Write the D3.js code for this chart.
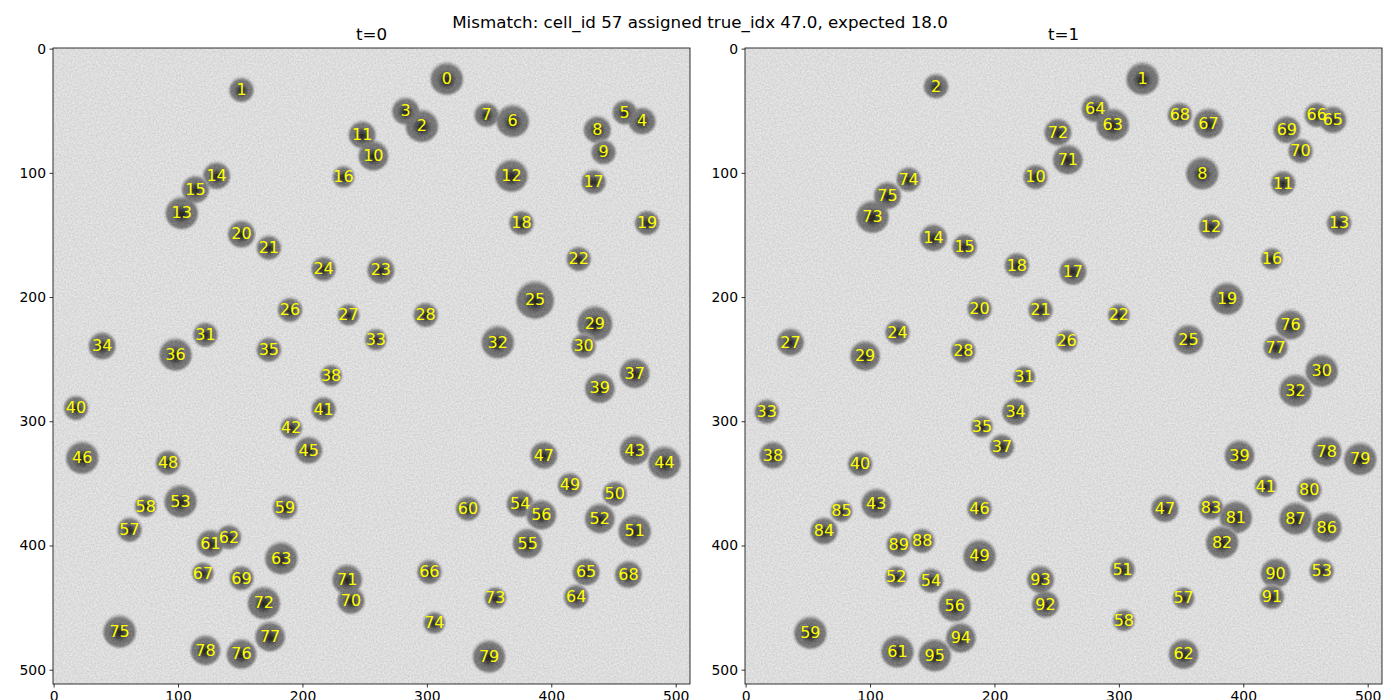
<!DOCTYPE html>
<html>
<head>
<meta charset="utf-8">
<script src="https://cdn.jsdelivr.net/npm/d3@7"></script>
<style>
  body { margin: 0; background: #ffffff; }
  svg text { font-family: "DejaVu Sans", sans-serif; }
</style>
</head>
<body>
<svg id="chart" width="1400" height="700"></svg>
<script>
/* Cell labels and centroids (image pixel coords), t=0 */
let ids0 = [0,1,2,3,4,5,6,7,8,9,10,11,12,13,14,15,16,17,18,19,20,21,22,23,24,25,26,27,28,29,
    30,31,32,33,34,35,36,37,38,39,40,41,42,43,44,45,46,47,48,49,50,51,52,53,54,55,56,57,58,59,
    60,61,62,63,64,65,66,67,68,69,70,71,72,73,74,75,76,77,78,79];
let xs0 = [316,151,296,283,473,459,369,348,437,442,257,248,368,103,131,114,233,434,376,477,
    151,173,422,263,217,387,190,237,299,435,426,122,357,259,39,173,98,467,223,439,
    18,217,191,467,491,205,23,394,92,415,451,467,439,102,375,381,392,61,74,186,
    333,126,141,183,420,428,302,120,462,151,239,236,169,355,306,53,151,174,122,350];
let ys0 = [24,33,62,50,58,51,58,53,65,83,86,69,102,132,102,113,103,107,140,140,
    149,160,169,178,177,202,210,214,214,221,239,230,236,234,239,242,246,261,263,273,
    289,290,305,323,333,323,329,327,333,351,358,388,378,364,366,398,375,387,368,369,
    370,398,393,410,441,421,421,422,423,426,444,427,446,442,462,469,487,473,484,489];
let rs0 = [12,9,12,10,10,9,12,9,10,9,11,10,12,12,10,10,8,9,9,9,
    10,9,9,10,9,14,9,8,9,13,9,9,12,8,10,9,12,11,8,11,
    9,9,8,11,12,10,12,10,9,9,9,12,11,12,10,11,11,9,8,9,
    9,10,9,12,9,10,9,8,10,9,10,11,12,8,8,12,11,11,11,12];

/* Cell labels and centroids, t=1 */
let ids1 = [1,2,8,10,11,12,13,14,15,16,17,18,19,20,21,22,24,25,26,27,28,29,30,31,32,33,34,35,37,38,
    39,40,41,43,46,47,49,51,52,53,54,56,57,58,59,61,62,63,64,65,66,67,68,69,70,71,72,73,74,75,
    76,77,78,79,80,81,82,83,84,85,86,87,88,89,90,91,92,93,94,95];
let xs1 = [319,153,367,233,432,374,477,151,176,423,263,218,387,188,237,300,122,356,258,36,
    175,96,463,224,442,17,217,190,206,22,397,92,418,105,188,337,188,303,121,463,
    149,168,352,304,52,122,352,295,281,472,459,372,349,435,446,259,251,102,131,114,
    438,426,467,494,453,394,383,374,63,77,467,442,142,123,426,423,241,237,173,152];
let ys1 = [24,30,100,103,108,143,140,152,159,169,179,174,201,209,210,214,228,234,235,236,
    243,247,259,264,275,292,292,304,320,327,327,334,352,366,370,370,408,419,425,420,
    428,448,442,460,470,485,487,61,48,57,53,60,53,65,82,89,67,135,105,118,
    222,240,324,330,355,377,397,369,388,372,385,378,396,399,422,441,447,427,474,488];
let rs1 = [12,9,12,9,9,9,9,10,9,8,10,9,12,9,9,8,9,11,8,10,
    9,11,12,8,12,9,10,8,9,10,11,9,8,11,9,10,12,9,8,9,
    9,12,8,8,12,12,11,12,10,10,9,11,9,10,9,11,10,12,9,10,
    11,9,11,12,9,12,12,9,10,8,11,12,9,9,11,9,10,10,11,12];

let frameTitles = ["t=0", "t=1"];
let xTicks = [0, 100, 200, 300, 400, 500];
let yTicks = [0, 100, 200, 300, 400, 500];
let suptitle = "Mismatch: cell_id 57 assigned true_idx 47.0, expected 18.0";

let frames = [
    {title: frameTitles[0], ids: ids0, xs: xs0, ys: ys0, rs: rs0},
    {title: frameTitles[1], ids: ids1, xs: xs1, ys: ys1, rs: rs1}
];

let svg = d3.select("svg#chart");
let axesLefts = [53, 745];
let axesTop = 48;
let axesW = 637;
let axesH = 636;

let defs = svg.append("defs");

/* grainy background like the microscope frame */
let noise = defs.append("filter").attr("id", "grain")
    .attr("color-interpolation-filters", "sRGB")
    .attr("x", 0).attr("y", 0).attr("width", "100%").attr("height", "100%");
noise.append("feTurbulence").attr("type", "fractalNoise")
    .attr("baseFrequency", 0.6).attr("numOctaves", 2).attr("seed", 3).attr("result", "t");
noise.append("feColorMatrix").attr("in", "t").attr("type", "matrix")
    .attr("values", "0 0 0 1.6 -0.3  0 0 0 1.6 -0.3  0 0 0 1.6 -0.3  0 0 0 0 0.1");

let soft = defs.append("filter").attr("id", "soft")
    .attr("x", "-30%").attr("y", "-30%").attr("width", "160%").attr("height", "160%");
soft.append("feGaussianBlur").attr("stdDeviation", 0.9);

let grad = defs.append("radialGradient").attr("id", "cellGrad")
    .attr("cx", "50%").attr("cy", "55%").attr("r", "50%");
[[0, "#121212"], [0.3, "#3c3c3c"], [0.58, "#717171"], [0.82, "#787878"], [0.92, "#6c6c6c"], [1, "#b4b4b4"]]
    .forEach(s => grad.append("stop").attr("offset", s[0]).attr("stop-color", s[1]));

frames.forEach((frame, fi) => {
    let g = svg.append("g").attr("transform", "translate(" + axesLefts[fi] + "," + axesTop + ")");

    let xScale = d3.scaleLinear().domain([-0.5, 511.5]).range([0, axesW]);
    let yScale = d3.scaleLinear().domain([-0.5, 511.5]).range([0, axesH]);
    let rScale = d3.scaleLinear().domain([0, 512]).range([0, axesW]);

    defs.append("clipPath").attr("id", "clip" + fi)
        .append("rect").attr("width", axesW).attr("height", axesH);

    let img = g.append("g").attr("clip-path", "url(#clip" + fi + ")");
    img.append("rect").attr("width", axesW).attr("height", axesH).attr("fill", "#e7e7e7");

    img.selectAll("circle.cell")
        .data(frame.ids)
        .join("circle")
        .attr("class", "cell")
        .attr("cx", (d, i) => xScale(frame.xs[i]))
        .attr("cy", (d, i) => yScale(frame.ys[i]))
        .attr("r", (d, i) => rScale(frame.rs[i]) * 1.1)
        .attr("fill", "url(#cellGrad)")
        .attr("filter", "url(#soft)");

    img.append("rect").attr("width", axesW).attr("height", axesH)
        .attr("fill", "#ffffff").attr("filter", "url(#grain)");

    img.selectAll("text.lbl")
        .data(frame.ids)
        .join("text")
        .attr("class", "lbl")
        .attr("x", (d, i) => xScale(frame.xs[i]))
        .attr("y", (d, i) => yScale(frame.ys[i]))
        .attr("text-anchor", "middle")
        .attr("dy", "0.36em")
        .attr("fill", "#ffff00")
        .style("font-size", "16px")
        .text(d => d);

    /* axes */
    let xAxis = d3.axisBottom(xScale).tickValues(xTicks).tickSize(3.5).tickPadding(3.5);
    let yAxis = d3.axisLeft(yScale).tickValues(yTicks).tickSize(3.5).tickPadding(3.5);

    let xg = g.append("g").attr("transform", "translate(0," + axesH + ")").call(xAxis);
    let yg = g.append("g").call(yAxis);
    [xg, yg].forEach(a => {
        a.select("path.domain").remove();
        a.selectAll(".tick line").attr("stroke", "#000").attr("stroke-width", 0.8);
        a.selectAll(".tick text").attr("fill", "#000").style("font-size", "13.9px")
            .style("font-family", "DejaVu Sans, sans-serif");
    });

    g.append("rect").attr("width", axesW).attr("height", axesH)
        .attr("fill", "none").attr("stroke", "#000").attr("stroke-width", 0.8);

    g.append("text")
        .attr("x", axesW / 2).attr("y", -8)
        .attr("text-anchor", "middle")
        .style("font-size", "16.7px")
        .attr("fill", "#000")
        .text(frame.title);
});

svg.append("text")
    .attr("x", 700).attr("y", 28)
    .attr("text-anchor", "middle")
    .style("font-size", "16.7px")
    .attr("fill", "#000")
    .text(suptitle);
</script>
</body>
</html>
